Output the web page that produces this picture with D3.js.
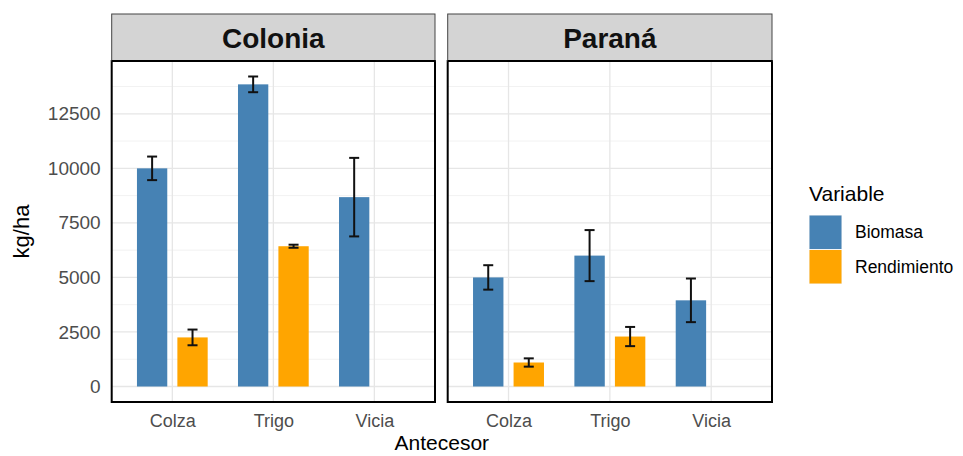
<!DOCTYPE html>
<html>
<head>
<meta charset="utf-8">
<script src="https://cdn.jsdelivr.net/npm/d3@7"></script>
<style>
  html, body { margin: 0; padding: 0; background: #fff; }
  svg { display: block; font-family: "Liberation Sans", Arial, Helvetica, sans-serif; }
</style>
</head>
<body>
<svg id="chart" width="963" height="456"></svg>
<script>
// Facets, categories and series
const locations = ["Colonia", "Paraná"];
const antecesores = ["Colza", "Trigo", "Vicia"];
const variables = ["Biomasa", "Rendimiento"];
const colors = ["#4682B4", "#FFA500"];

// Mean values (kg/ha) per location; null = not measured
const coloniaBiomasa     = [10000, 13850, 8680];
const coloniaRendimiento = [2250, 6430, null];
const paranaBiomasa      = [5000, 6000, 3950];
const paranaRendimiento  = [1100, 2290, null];

// Error bar half-widths (kg/ha)
const coloniaBiomasaErr     = [540, 360, 1800];
const coloniaRendimientoErr = [360, 70, null];
const paranaBiomasaErr      = [560, 1170, 1000];
const paranaRendimientoErr  = [190, 440, null];

const yTicks = [0, 2500, 5000, 7500, 10000, 12500];
const yMinor = [1250, 3750, 6250, 8750, 11250, 13750];

const xTitle = "Antecesor";
const yTitle = "kg/ha";
const legendTitle = "Variable";

// Build long-form rows
const seriesByLoc = {
  "Colonia": [[coloniaBiomasa, coloniaBiomasaErr], [coloniaRendimiento, coloniaRendimientoErr]],
  "Paraná":  [[paranaBiomasa, paranaBiomasaErr], [paranaRendimiento, paranaRendimientoErr]]
};
const rows = [];
locations.forEach(loc => {
  variables.forEach((v, vi) => {
    const [vals, errs] = seriesByLoc[loc][vi];
    antecesores.forEach((a, ai) => {
      if (vals[ai] != null) rows.push({ loc, ant: a, variable: v, value: vals[ai], err: errs[ai] });
    });
  });
});

// Layout
const panels = [
  { loc: "Colonia", x0: 111.7, x1: 435 },
  { loc: "Paraná",  x0: 447.7, x1: 772 }
];
const stripTop = 14, panelTop = 61, panelBottom = 402;

const yMax = d3.max(rows, d => d.value + d.err);
const y = d3.scaleLinear()
  .domain([-0.05 * yMax, 1.05 * yMax])
  .range([panelBottom, panelTop]);

const color = d3.scaleOrdinal().domain(variables).range(colors);

const svg = d3.select("#chart");

panels.forEach((p, pi) => {
  const w = p.x1 - p.x0;
  const x = d3.scalePoint().domain(antecesores).range([0, w]).padding(0.6);
  const step = x.step();
  const dodge = d3.scaleBand().domain(variables)
    .range([-0.4 * step, 0.4 * step]).paddingInner(0.25).paddingOuter(0.125);

  const g = svg.append("g").attr("transform", `translate(${p.x0},0)`);

  // minor grid
  g.append("g").selectAll("line").data(yMinor).join("line")
    .attr("x1", 0).attr("x2", w)
    .attr("y1", d => y(d)).attr("y2", d => y(d))
    .attr("stroke", "#F2F2F2").attr("stroke-width", 1);
  // major grid
  g.append("g").selectAll("line").data(yTicks).join("line")
    .attr("x1", 0).attr("x2", w)
    .attr("y1", d => y(d)).attr("y2", d => y(d))
    .attr("stroke", "#E6E6E6").attr("stroke-width", 1.3);
  g.append("g").selectAll("line").data(antecesores).join("line")
    .attr("x1", d => x(d)).attr("x2", d => x(d))
    .attr("y1", panelTop).attr("y2", panelBottom)
    .attr("stroke", "#E6E6E6").attr("stroke-width", 1.3);

  const data = rows.filter(r => r.loc === p.loc);

  // bars
  g.append("g").selectAll("rect").data(data).join("rect")
    .attr("x", d => x(d.ant) + dodge(d.variable))
    .attr("width", dodge.bandwidth())
    .attr("y", d => y(d.value))
    .attr("height", d => y(0) - y(d.value))
    .attr("fill", d => color(d.variable));

  // error bars
  const eb = g.append("g").attr("stroke", "#111").attr("stroke-width", 2).attr("fill", "none");
  const cx = d => x(d.ant) + dodge(d.variable) + dodge.bandwidth() / 2;
  const cap = 5;
  eb.selectAll("line.v").data(data).join("line").attr("class", "v")
    .attr("x1", cx).attr("x2", cx)
    .attr("y1", d => y(d.value + d.err)).attr("y2", d => y(d.value - d.err));
  eb.selectAll("line.t").data(data).join("line").attr("class", "t")
    .attr("x1", d => cx(d) - cap).attr("x2", d => cx(d) + cap)
    .attr("y1", d => y(d.value + d.err)).attr("y2", d => y(d.value + d.err));
  eb.selectAll("line.b").data(data).join("line").attr("class", "b")
    .attr("x1", d => cx(d) - cap).attr("x2", d => cx(d) + cap)
    .attr("y1", d => y(d.value - d.err)).attr("y2", d => y(d.value - d.err));

  // panel border
  g.append("rect").attr("x", 0).attr("y", panelTop).attr("width", w)
    .attr("height", panelBottom - panelTop)
    .attr("fill", "none").attr("stroke", "#000").attr("stroke-width", 2);

  // strip
  g.append("rect").attr("x", 0).attr("y", stripTop).attr("width", w)
    .attr("height", panelTop - stripTop)
    .attr("fill", "#D4D4D4").attr("stroke", "#444").attr("stroke-width", 1);
  g.append("line").attr("x1", 0).attr("x2", w).attr("y1", panelTop).attr("y2", panelTop)
    .attr("stroke", "#000").attr("stroke-width", 2);
  g.append("text").attr("x", w / 2).attr("y", 48)
    .attr("text-anchor", "middle").attr("font-size", 28).attr("font-weight", "bold")
    .attr("fill", "#111").text(p.loc);

  // x axis
  const xa = g.append("g").attr("transform", `translate(0,${panelBottom})`)
    .call(d3.axisBottom(x).tickSize(0).tickPadding(12));
  xa.select(".domain").remove();
  xa.selectAll("text").attr("font-size", 18).attr("fill", "#4D4D4D")
    .attr("font-family", "Liberation Sans, Arial, sans-serif");

  // y axis on first panel
  if (pi === 0) {
    const ya = g.append("g")
      .call(d3.axisLeft(y).tickValues(yTicks).tickSize(0).tickPadding(11).tickFormat(d3.format("d")));
    ya.select(".domain").remove();
    ya.selectAll("text").attr("font-size", 19).attr("fill", "#4D4D4D")
      .attr("font-family", "Liberation Sans, Arial, sans-serif");
  }
});

// axis titles
svg.append("text").attr("x", (panels[0].x0 + panels[1].x1) / 2).attr("y", 450)
  .attr("text-anchor", "middle").attr("font-size", 21).attr("fill", "#000").text(xTitle);
svg.append("text").attr("transform", `translate(29,${(panelTop + panelBottom) / 2}) rotate(-90)`)
  .attr("text-anchor", "middle").attr("font-size", 22).attr("fill", "#000").text(yTitle);

// legend
const lg = svg.append("g").attr("transform", "translate(809,0)");
lg.append("text").attr("x", 0).attr("y", 201).attr("font-size", 21).attr("fill", "#000").text(legendTitle);
const keyH = 34.5;
const items = lg.selectAll("g.item").data(variables).join("g").attr("class", "item")
  .attr("transform", (d, i) => `translate(0,${215 + i * keyH})`);
items.append("rect").attr("width", 33).attr("height", keyH).attr("fill", "#F2F2F2");
items.append("rect").attr("x", 0.5).attr("y", 0.5).attr("width", 32).attr("height", keyH - 1)
  .attr("fill", d => color(d));
items.append("text").attr("x", 46).attr("y", keyH / 2 + 6).attr("font-size", 17.5)
  .attr("fill", "#000").text(d => d);
</script>
</body>
</html>
